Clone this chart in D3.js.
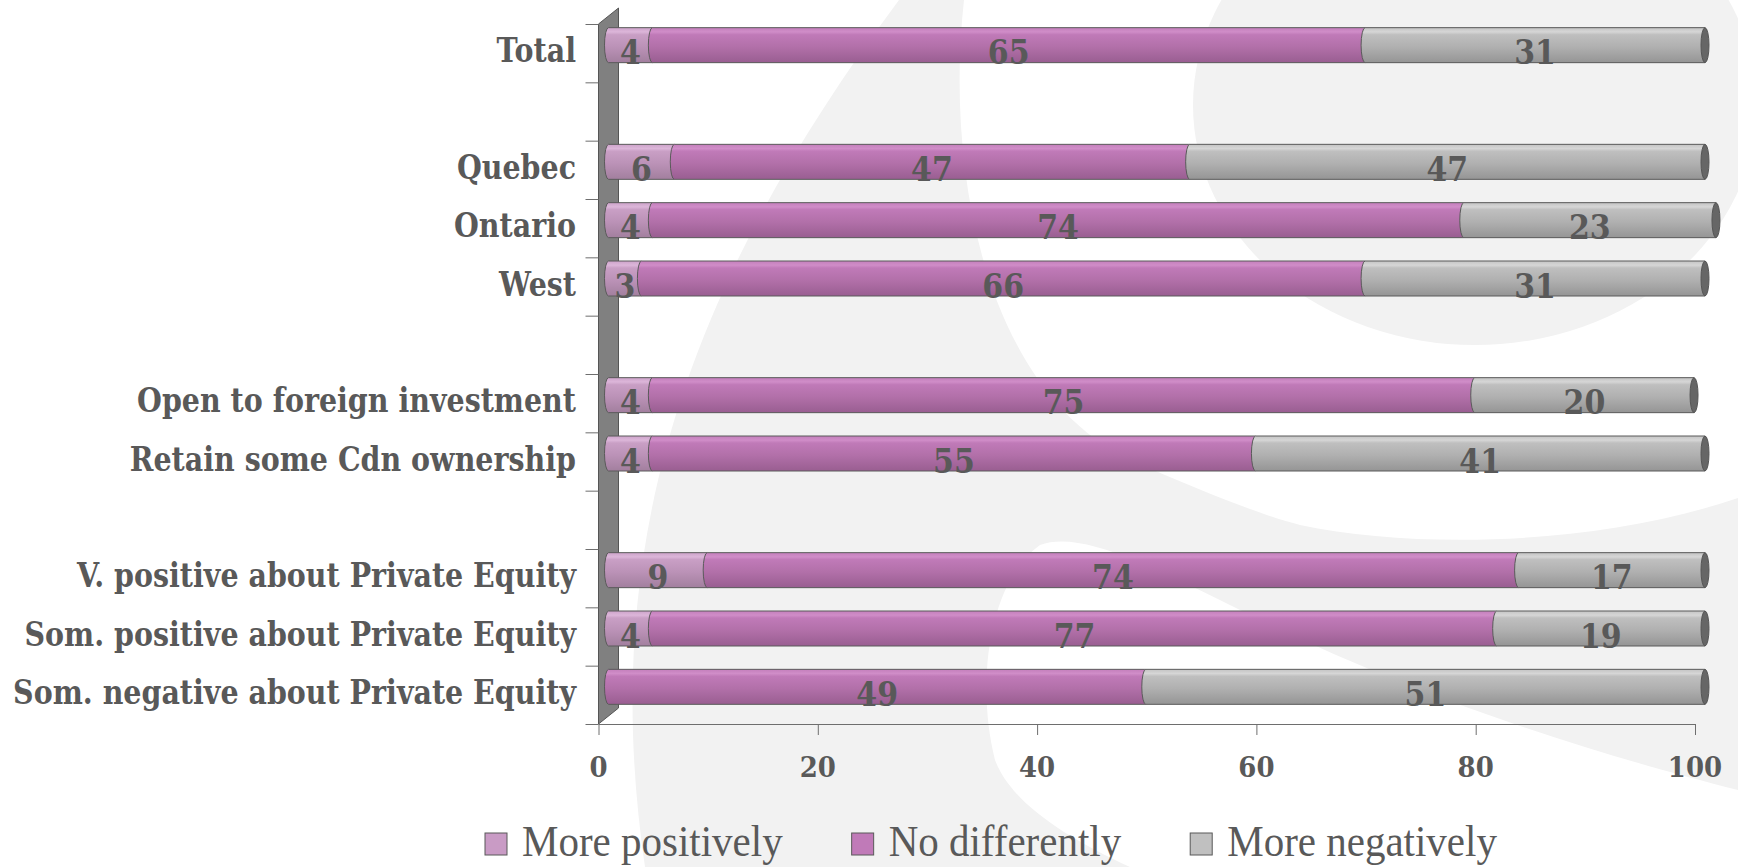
<!DOCTYPE html>
<html>
<head>
<meta charset="utf-8">
<script src="https://cdn.jsdelivr.net/npm/d3@7"></script>
<style>
    body { margin: 0; background: #fff; }
    svg { display: block; }
</style>
</head>
<body>
<div id="chart-area"></div>
<script>
// rows top to bottom, "" = empty spacer row
var categories = ["Total", "", "Quebec", "Ontario", "West", "",
    "Open to foreign investment", "Retain some Cdn ownership", "",
    "V. positive about Private Equity", "Som. positive about Private Equity",
    "Som. negative about Private Equity"];
var morePositively = [4, null, 6, 4, 3, null, 4, 4, null, 9, 4, 0];
var noDifferently = [65, null, 47, 74, 66, null, 75, 55, null, 74, 77, 49];
var moreNegatively = [31, null, 47, 23, 31, null, 20, 41, null, 17, 19, 51];
var seriesNames = ["More positively", "No differently", "More negatively"];
var xTicks = [0, 20, 40, 60, 80, 100];

var width = 1738, height = 867;
var textColor = "#595959";

var svg = d3.select("#chart-area")
    .append("svg")
    .attr("width", width)
    .attr("height", height);

var defs = svg.append("defs");

// cylinder shading per series
var shades = [
    ["#cda3ca", "#dcb6d9", "#c99fc5", "#bb92b7", "#a27f9e"],
    ["#c47fbc", "#d08dc8", "#c07ab8", "#b270a9", "#995e91"],
    ["#c4c4c4", "#d6d6d6", "#bfbfbf", "#b0b0b0", "#959595"]
];
var flat = ["#c99bc5", "#c07ab8", "#c0c0c0"];
shades.forEach(function (s, i) {
    var grad = defs.append("linearGradient")
        .attr("id", "grad" + i)
        .attr("x1", 0).attr("y1", 0).attr("x2", 0).attr("y2", 1);
    [0, 0.12, 0.2, 0.55, 1].forEach(function (o, k) {
        grad.append("stop").attr("offset", o).attr("stop-color", s[k]);
    });
});

// background watermark
var bg = svg.append("g").attr("fill", "#f2f2f2");
bg.append("ellipse")
    .attr("cx", 1475).attr("cy", 105)
    .attr("rx", 282).attr("ry", 240);
bg.append("path")
    .attr("d", "M899,0 L964,0 C945,170 985,390 1130,460 C1200,490 1260,515 1300,525 " +
        "C1420,550 1600,545 1738,498 L1738,790 C1600,755 1420,700 1240,610 " +
        "C1150,565 1080,530 1040,545 C990,580 975,680 995,760 C1010,800 1060,835 1130,867 " +
        "L645,867 C600,560 675,300 899,0 Z");

var x = d3.scaleLinear().domain([0, 100]).range([598.5, 1695]);
var y = d3.scaleBand()
    .domain(d3.range(categories.length))
    .range([24, 724])
    .paddingInner(0.4)
    .paddingOuter(0.2);
var yEdge = d3.scaleLinear().domain([0, categories.length]).range([24, 724]);

var depthX = 20, depthY = -16;
var barDx = depthX / 2, barDy = depthY / 2;

// side wall
var x0 = x(0);
svg.append("path")
    .attr("d", "M" + x0 + ",24 L" + (x0 + depthX) + "," + (24 + depthY) +
        " L" + (x0 + depthX) + "," + (724 + depthY) + " L" + x0 + ",724 Z")
    .attr("fill", "#808080")
    .attr("stroke", "#555")
    .attr("stroke-width", 1);

// left tick marks at band edges
var yAxis = svg.append("g")
    .attr("transform", "translate(" + x0 + ",0)")
    .call(d3.axisLeft(yEdge).ticks(categories.length).tickSize(13).tickFormat(""));
yAxis.select(".domain").remove();
yAxis.selectAll("line").attr("stroke", "#6e6e6e");

// bottom axis
var xAxis = svg.append("g")
    .attr("transform", "translate(0,724)")
    .call(d3.axisBottom(x).tickValues(xTicks).tickSize(11).tickSizeOuter(0).tickFormat(""));
xAxis.select(".domain").attr("stroke", "#6e6e6e");
xAxis.selectAll("line").attr("stroke", "#6e6e6e");

function scaledText(g, str, tx, ty, sy) {
    return g.append("text")
        .attr("transform", "translate(" + tx + "," + ty + ") scale(1," + sy + ")")
        .text(str);
}

var tickLabels = svg.append("g")
    .attr("font-family", "'DejaVu Serif', serif")
    .attr("font-weight", "bold")
    .attr("font-size", 26)
    .attr("fill", textColor)
    .attr("text-anchor", "middle");
xTicks.forEach(function (t) {
    scaledText(tickLabels, t, x(t), 777, 1.1);
});

// category labels, sized so the longest fits the original width
var catG = svg.append("g")
    .attr("font-family", "'DejaVu Serif', serif")
    .attr("font-weight", "bold")
    .attr("fill", textColor)
    .attr("text-anchor", "end");
var probe = catG.append("text").attr("font-size", 28).text(categories[11]);
var catSize = 28 * 563 / probe.node().getComputedTextLength();
probe.remove();
catG.attr("font-size", catSize);
categories.forEach(function (c, i) {
    if (c === "") return;
    scaledText(catG, c, 576, y(i) + y.bandwidth() / 2 + 9, 1.2);
});

// stacked cylinders
function segPath(a, b, t, h) {
    var r = 4;
    return "M" + a + "," + t + " L" + b + "," + t + " L" + b + "," + (t + h) +
        " L" + a + "," + (t + h) + " A" + r + "," + (h / 2) + " 0 0 1 " + a + "," + t + " Z";
}

var bars = svg.append("g");
var valLabels = svg.append("g")
    .attr("font-family", "'DejaVu Serif', serif")
    .attr("font-weight", "bold")
    .attr("font-size", 30)
    .attr("fill", textColor)
    .attr("text-anchor", "middle");

categories.forEach(function (c, i) {
    if (noDifferently[i] === null) return;
    var vals = [morePositively[i], noDifferently[i], moreNegatively[i]];
    var top = y(i) + barDy;
    var h = y.bandwidth();
    var acc = 0;
    var segs = [];
    vals.forEach(function (v, s) {
        if (v > 0) segs.push({ s: s, v: v, a: x(acc) + barDx, b: x(acc + v) + barDx });
        acc += v;
    });
    segs.forEach(function (d) {
        bars.append("path")
            .attr("d", segPath(d.a, d.b, top, h))
            .attr("fill", "url(#grad" + d.s + ")")
            .attr("stroke", "#5a5a5a")
            .attr("stroke-width", 1);
    });
    var last = segs[segs.length - 1];
    bars.append("ellipse")
        .attr("cx", last.b).attr("cy", top + h / 2)
        .attr("rx", 4).attr("ry", h / 2)
        .attr("fill", "#666")
        .attr("stroke", "#555");
    segs.forEach(function (d) {
        scaledText(valLabels, d.v, (d.a + d.b) / 2, top + h / 2 + 19, 1.12);
    });
});

// legend
var legend = svg.append("g")
    .attr("font-family", "'Liberation Serif', serif")
    .attr("font-size", 41)
    .attr("fill", textColor);
var lx = 485;
seriesNames.forEach(function (name, i) {
    legend.append("rect")
        .attr("x", lx).attr("y", 833)
        .attr("width", 22).attr("height", 22)
        .attr("fill", flat[i])
        .attr("stroke", "#595959")
        .attr("stroke-width", 1);
    var t = scaledText(legend, name, lx + 37, 856, 1.1);
    lx += 37 + t.node().getComputedTextLength() + 69;
});
</script>
</body>
</html>
